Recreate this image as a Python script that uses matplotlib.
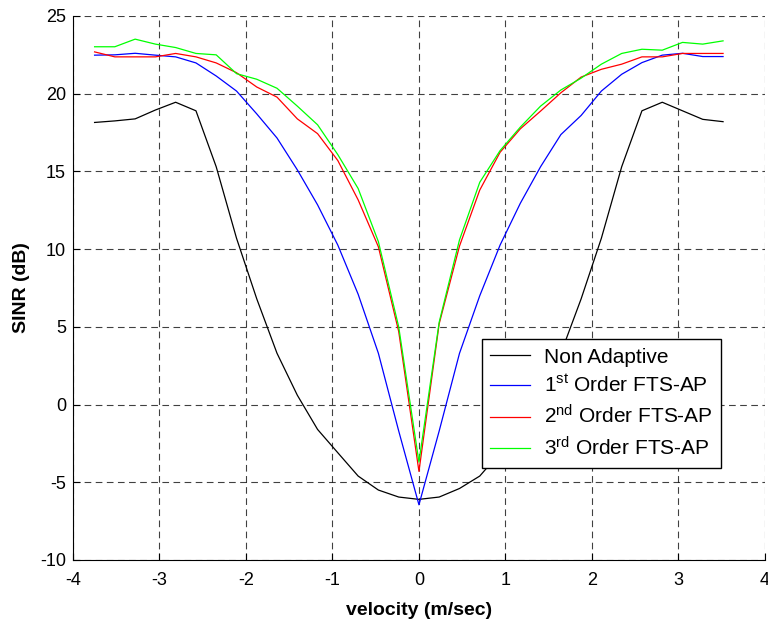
import matplotlib
matplotlib.use('Agg')
import matplotlib.pyplot as plt

plt.rcParams['font.family'] = ['Liberation Sans', 'DejaVu Sans']
plt.rcParams['mathtext.default'] = 'regular'
plt.rcParams['axes.unicode_minus'] = False

# velocity bins (m/sec)
velocity = [-3.750, -3.516, -3.281, -3.047, -2.813, -2.578, -2.344, -2.109,
            -1.875, -1.641, -1.406, -1.172, -0.938, -0.703, -0.469, -0.234,
            0.0, 0.234, 0.469, 0.703, 0.938, 1.172, 1.406, 1.641,
            1.875, 2.109, 2.344, 2.578, 2.813, 3.047, 3.281, 3.516]

# SINR (dB) for each processor
non_adaptive = [18.15, 18.25, 18.38, 18.95, 19.45, 18.9, 15.3, 10.7,
                6.8, 3.3, 0.6, -1.6, -3.1, -4.6, -5.5, -5.95,
                -6.1, -5.95, -5.4, -4.6, -3.1, -1.6, 0.6, 3.3,
                6.8, 10.7, 15.3, 18.9, 19.45, 18.9, 18.35, 18.2]
first_order = [22.48, 22.5, 22.6, 22.48, 22.37, 21.98, 21.14, 20.17,
               18.7, 17.15, 15.1, 12.85, 10.26, 7.1, 3.3, -1.7,
               -6.45, -1.7, 3.3, 7.0, 10.26, 12.95, 15.3, 17.37,
               18.6, 20.17, 21.25, 22.0, 22.48, 22.6, 22.39, 22.39]
second_order = [22.69, 22.37, 22.37, 22.37, 22.59, 22.37, 21.98, 21.35,
                20.43, 19.78, 18.38, 17.43, 15.7, 13.17, 10.15, 4.7,
                -4.3, 5.2, 10.2, 13.8, 16.23, 17.74, 18.88, 20.06,
                21.07, 21.57, 21.9, 22.37, 22.37, 22.59, 22.59, 22.59]
third_order = [23.02, 23.02, 23.51, 23.19, 22.97, 22.59, 22.5, 21.29,
               20.93, 20.35, 19.2, 18.0, 16.08, 13.9, 10.48, 5.0,
               -3.7, 5.3, 10.6, 14.3, 16.34, 17.85, 19.2, 20.24,
               21.0, 21.9, 22.59, 22.86, 22.8, 23.3, 23.19, 23.4]

labels = ['Non Adaptive', '1$^{st}$ Order FTS-AP',
          '2$^{nd}$ Order FTS-AP', '3$^{rd}$ Order FTS-AP']
colors = ['black', '#0000ff', '#ff0000', '#00ff00']

fig = plt.figure(figsize=(7.68, 6.22), dpi=100)
ax = fig.add_axes([0.095, 0.0997, 0.901, 0.8746])

for ys, lab, c in zip([non_adaptive, first_order, second_order, third_order], labels, colors):
    ax.plot(velocity, ys, color=c, lw=0.9, label=lab)

ax.set_xlim(-4, 4)
ax.set_ylim(-10, 25)
ax.set_xticks(range(-4, 5))
ax.set_yticks(range(-10, 26, 5))
ax.grid(True, color='black', linestyle=(0, (6, 4)), linewidth=0.8, alpha=0.75)
ax.tick_params(direction='in', labelsize=13, length=5, width=0.8)
ax.tick_params(axis='x', pad=9)
ax.tick_params(axis='y', pad=5)
ax.spines['top'].set_visible(False)
ax.spines['right'].set_visible(False)

ax.set_xlabel('velocity (m/sec)', fontsize=14, fontweight='bold', labelpad=9)
ax.set_ylabel('SINR (dB)', fontsize=14, fontweight='bold', labelpad=7)

leg = ax.legend(loc='upper left', bbox_to_anchor=(0.5906, 0.4057), fontsize=15,
                frameon=True, fancybox=False, edgecolor='black', framealpha=1,
                handlelength=1.9, handletextpad=0.7, labelspacing=0.4,
                borderpad=0.4, borderaxespad=0)
leg.get_frame().set_linewidth(1.0)

fig.savefig('out.png', dpi=100)
